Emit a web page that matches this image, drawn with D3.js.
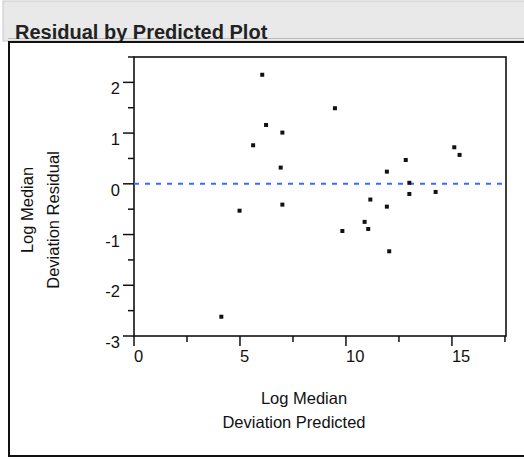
<!DOCTYPE html>
<html lang="en">
  <head>
    <meta charset="UTF-8" />
    <title>Residual by Predicted Plot</title>
    <script src="https://d3js.org/d3.v7.min.js"></script>
    <style>
      body {
        margin: 0;
        background: #fff;
        font-family: Arial, "Liberation Sans", sans-serif;
      }
      svg {
        display: block;
      }
      .tick-label {
        font-size: 16.5px;
        fill: #111;
      }
      .axis-title {
        font-size: 16.5px;
        fill: #111;
      }
    </style>
  </head>
  <body>
    <svg id="chart" width="524" height="459"></svg>

    <script>
      // Data
      const predicted = [
        6.05, 9.48, 6.23, 7.0, 5.62, 15.11, 15.36, 12.82, 6.92, 11.93, 12.99,
        12.99, 14.23, 11.15, 7.0, 11.93, 4.98, 10.88, 11.05, 9.83, 12.04, 4.12,
      ];
      const residual = [
        2.15, 1.49, 1.16, 1.01, 0.76, 0.72, 0.57, 0.47, 0.32, 0.24, 0.02,
        -0.2, -0.16, -0.31, -0.41, -0.45, -0.53, -0.75, -0.89, -0.93, -1.33,
        -2.62,
      ];
      const xTicks = [0, 5, 10, 15];
      const xMinorTicks = [2.5, 7.5, 12.5, 17.5];
      const yTicks = [-3, -2, -1, 0, 1, 2];
      const yMinorTicks = [-2.5, -1.5, -0.5, 0.5, 1.5, 2.5];

      const points = predicted.map((p, i) => ({ x: p, y: residual[i] }));

      const svg = d3.select("#chart");

      // ---- outer frame / header ----
      svg.append("rect")
        .attr("x", 3).attr("y", 1)
        .attr("width", 530).attr("height", 40)
        .attr("fill", "#e9e9e9")
        .attr("stroke", "#c8c8c8");

      svg.append("line")
        .attr("x1", 8).attr("x2", 524)
        .attr("y1", 38.5).attr("y2", 38.5)
        .attr("stroke", "#bbb");

      svg.append("text")
        .attr("x", 15).attr("y", 39)
        .attr("font-size", 20)
        .attr("font-weight", "bold")
        .attr("fill", "#222")
        .text("Residual by Predicted Plot");

      svg.append("rect")
        .attr("x", 9).attr("y", 42)
        .attr("width", 530).attr("height", 414)
        .attr("fill", "none")
        .attr("stroke", "#111")
        .attr("stroke-width", 2);

      // ---- plot area ----
      const plotL = 134, plotR = 506, plotT = 57, plotB = 336;

      const x = d3.scaleLinear().domain([0, 17.55]).range([plotL, plotR]);
      const y = d3.scaleLinear().domain([-3, 2.5]).range([plotB, plotT]);

      // frame
      svg.append("rect")
        .attr("x", plotL).attr("y", plotT)
        .attr("width", plotR - plotL).attr("height", plotB - plotT)
        .attr("fill", "none")
        .attr("stroke", "#111")
        .attr("stroke-width", 1.6);

      // zero reference line
      svg.append("line")
        .attr("x1", x(0)).attr("x2", plotR)
        .attr("y1", y(0)).attr("y2", y(0))
        .attr("stroke", "#3a6cf0")
        .attr("stroke-width", 2)
        .attr("stroke-dasharray", "5,6");

      // y ticks
      svg.selectAll(".ymaj")
        .data(yTicks)
        .join("line")
        .attr("x1", plotL - 11).attr("x2", plotL)
        .attr("y1", (d) => y(d)).attr("y2", (d) => y(d))
        .attr("stroke", "#111").attr("stroke-width", 1.5);

      svg.selectAll(".ymin")
        .data(yMinorTicks)
        .join("line")
        .attr("x1", plotL - 6).attr("x2", plotL)
        .attr("y1", (d) => y(d)).attr("y2", (d) => y(d))
        .attr("stroke", "#111").attr("stroke-width", 1.5);

      svg.selectAll(".ylab")
        .data(yTicks)
        .join("text")
        .attr("class", "tick-label")
        .attr("text-anchor", "end")
        .attr("x", plotL - 14)
        .attr("y", (d) => y(d) + 12)
        .text((d) => d);

      // x ticks
      svg.selectAll(".xmaj")
        .data(xTicks)
        .join("line")
        .attr("x1", (d) => x(d)).attr("x2", (d) => x(d))
        .attr("y1", plotB).attr("y2", plotB + 10)
        .attr("stroke", "#111").attr("stroke-width", 1.5);

      svg.selectAll(".xmin")
        .data(xMinorTicks)
        .join("line")
        .attr("x1", (d) => x(d)).attr("x2", (d) => x(d))
        .attr("y1", plotB).attr("y2", plotB + 6)
        .attr("stroke", "#111").attr("stroke-width", 1.5);

      svg.selectAll(".xlab")
        .data(xTicks)
        .join("text")
        .attr("class", "tick-label")
        .attr("text-anchor", "start")
        .attr("x", (d) => x(d))
        .attr("y", plotB + 26)
        .text((d) => d);

      // points
      svg.selectAll(".pt")
        .data(points)
        .join("rect")
        .attr("x", (d) => x(d.x) - 2)
        .attr("y", (d) => y(d.y) - 2)
        .attr("width", 4)
        .attr("height", 4)
        .attr("fill", "#111");

      // axis titles
      svg.append("text")
        .attr("class", "axis-title")
        .attr("text-anchor", "middle")
        .attr("x", 304).attr("y", 404)
        .text("Log Median");
      svg.append("text")
        .attr("class", "axis-title")
        .attr("text-anchor", "middle")
        .attr("x", 294).attr("y", 428)
        .text("Deviation Predicted");

      svg.append("text")
        .attr("class", "axis-title")
        .attr("text-anchor", "middle")
        .attr("transform", "translate(33,210) rotate(-90)")
        .text("Log Median");
      svg.append("text")
        .attr("class", "axis-title")
        .attr("text-anchor", "middle")
        .attr("transform", "translate(59,220) rotate(-90)")
        .text("Deviation Residual");
    </script>
  </body>
</html>
